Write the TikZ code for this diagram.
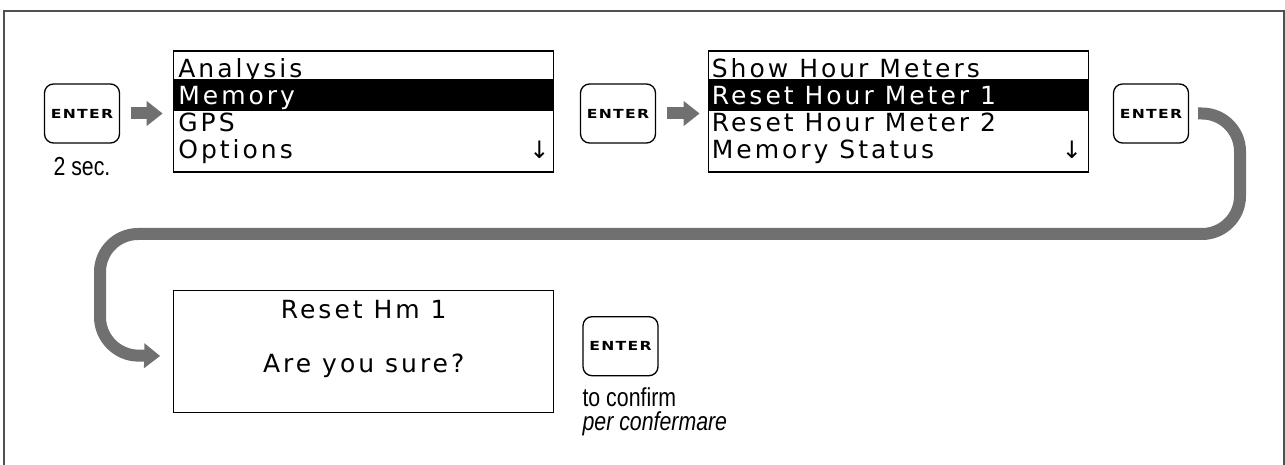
\documentclass[tikz,border=0pt]{standalone}
\usepackage{fontspec}
\setmainfont{Liberation Sans}
\newfontfamily\lcdfont[LetterSpace=12]{DejaVu Sans}
\newfontfamily\keyfont[FakeStretch=1.25,LetterSpace=10]{DejaVu Sans Bold}
\newfontfamily\notefont[FakeStretch=0.82]{Liberation Sans}
\usepackage{tikz}
\usetikzlibrary{arrows.meta, positioning}
\definecolor{flowgray}{RGB}{112,112,112}
\definecolor{framegray}{RGB}{80,80,80}

\begin{document}
\begin{tikzpicture}[
  x=1pt, y=-1pt,
  key/.style={rectangle, draw, rounded corners=9pt, line width=1.3pt, minimum width=75pt, minimum height=59pt, inner sep=0pt, font=\keyfont\fontsize{12.5}{14}\selectfont},
  screen/.style={rectangle, draw, line width=1.2pt, minimum width=380pt, minimum height=121pt, inner sep=0pt},
  row/.style={anchor=base west, inner sep=0pt, font=\lcdfont\fontsize{25}{28}\selectfont},
  prompt/.style={anchor=base, inner sep=0pt, font=\lcdfont\fontsize{25}{28}\selectfont},
  scroll/.style={anchor=base, inner sep=0pt, font=\lcdfont\fontsize{24}{26}\selectfont},
  note/.style={inner sep=0pt, font=\notefont\fontsize{26}{26}\selectfont},
  arrow/.style={draw=flowgray, line width=12pt, -{Triangle[length=16pt, width=24pt]}}
]
\useasboundingbox (0,0) rectangle (1285,465);

% Frame
\draw[framegray, line width=1.5pt] (4,466) -- (4,11) -- (1284,11) -- (1284,466);

% Keys and screens
\node[key] (enter1) at (82,113.5) {ENTER};
\node[screen, right=53pt of enter1, yshift=2pt] (menu1) {};
\node[key, right=25.5pt of menu1, yshift=-2pt] (enter2) {ENTER};
\node[screen, right=51.5pt of enter2, yshift=2pt] (menu2) {};
\node[key, right=24pt of menu2, yshift=-2pt] (enter3) {ENTER};
\node[screen, below=117pt of menu1, minimum height=122pt] (confirm) {};
\node[key, right=28pt of confirm, yshift=5pt] (enter4) {ENTER};

% Selected lines
\fill ([shift={(0,29)}]menu1.north west) rectangle ([shift={(0,61)}]menu1.north east);
\fill ([shift={(0,29)}]menu2.north west) rectangle ([shift={(0,61)}]menu2.north east);

% Menu lines
\foreach \txt/\col [count=\i] in {Analysis/black, Memory/white, GPS/black, Options/black}
  \node[row, text=\col] at ([shift={(5,27*\i)}]menu1.north west) {\txt};
\foreach \txt/\col [count=\i] in {Show Hour Meters/black, Reset Hour Meter 1/white, Reset Hour Meter 2/black, Memory Status/black}
  \node[row, text=\col] at ([shift={(4,27*\i)}]menu2.north west) {\txt};
\node[scroll] (more1) at ([shift={(-15,108)}]menu1.north east) {↓};
\node[scroll] (more2) at ([shift={(-17,108)}]menu2.north east) {↓};

% Confirm screen
\node[prompt] (title) at ([yshift=-29pt]confirm.north) {Reset Hm 1};
\node[prompt] (question) at ([yshift=-83pt]confirm.north) {Are you sure?};

% Notes
\node[note, below=13pt of enter1] (hold) {2 sec.};
\node[note, anchor=base west] (confirm_en) at ([shift={(0,30)}]enter4.south west) {to confirm};
\node[note, anchor=base west] (confirm_it) at ([yshift=-24pt]confirm_en.base west) {\itshape per confermare};

% Arrows
\draw[arrow, shorten <=10.5pt, shorten >=10.5pt] (enter1.east) -- (enter1.east -| menu1.west);
\draw[arrow, shorten <=10.5pt, shorten >=8pt] (enter2.east) -- (enter2.east -| menu2.west);
\draw[arrow, rounded corners=38pt, shorten <=9pt, shorten >=13pt] (enter3.east) -| (1240,234) -| (100,355) -- ([yshift=-5pt]confirm.west);

\end{tikzpicture}
\end{document}
